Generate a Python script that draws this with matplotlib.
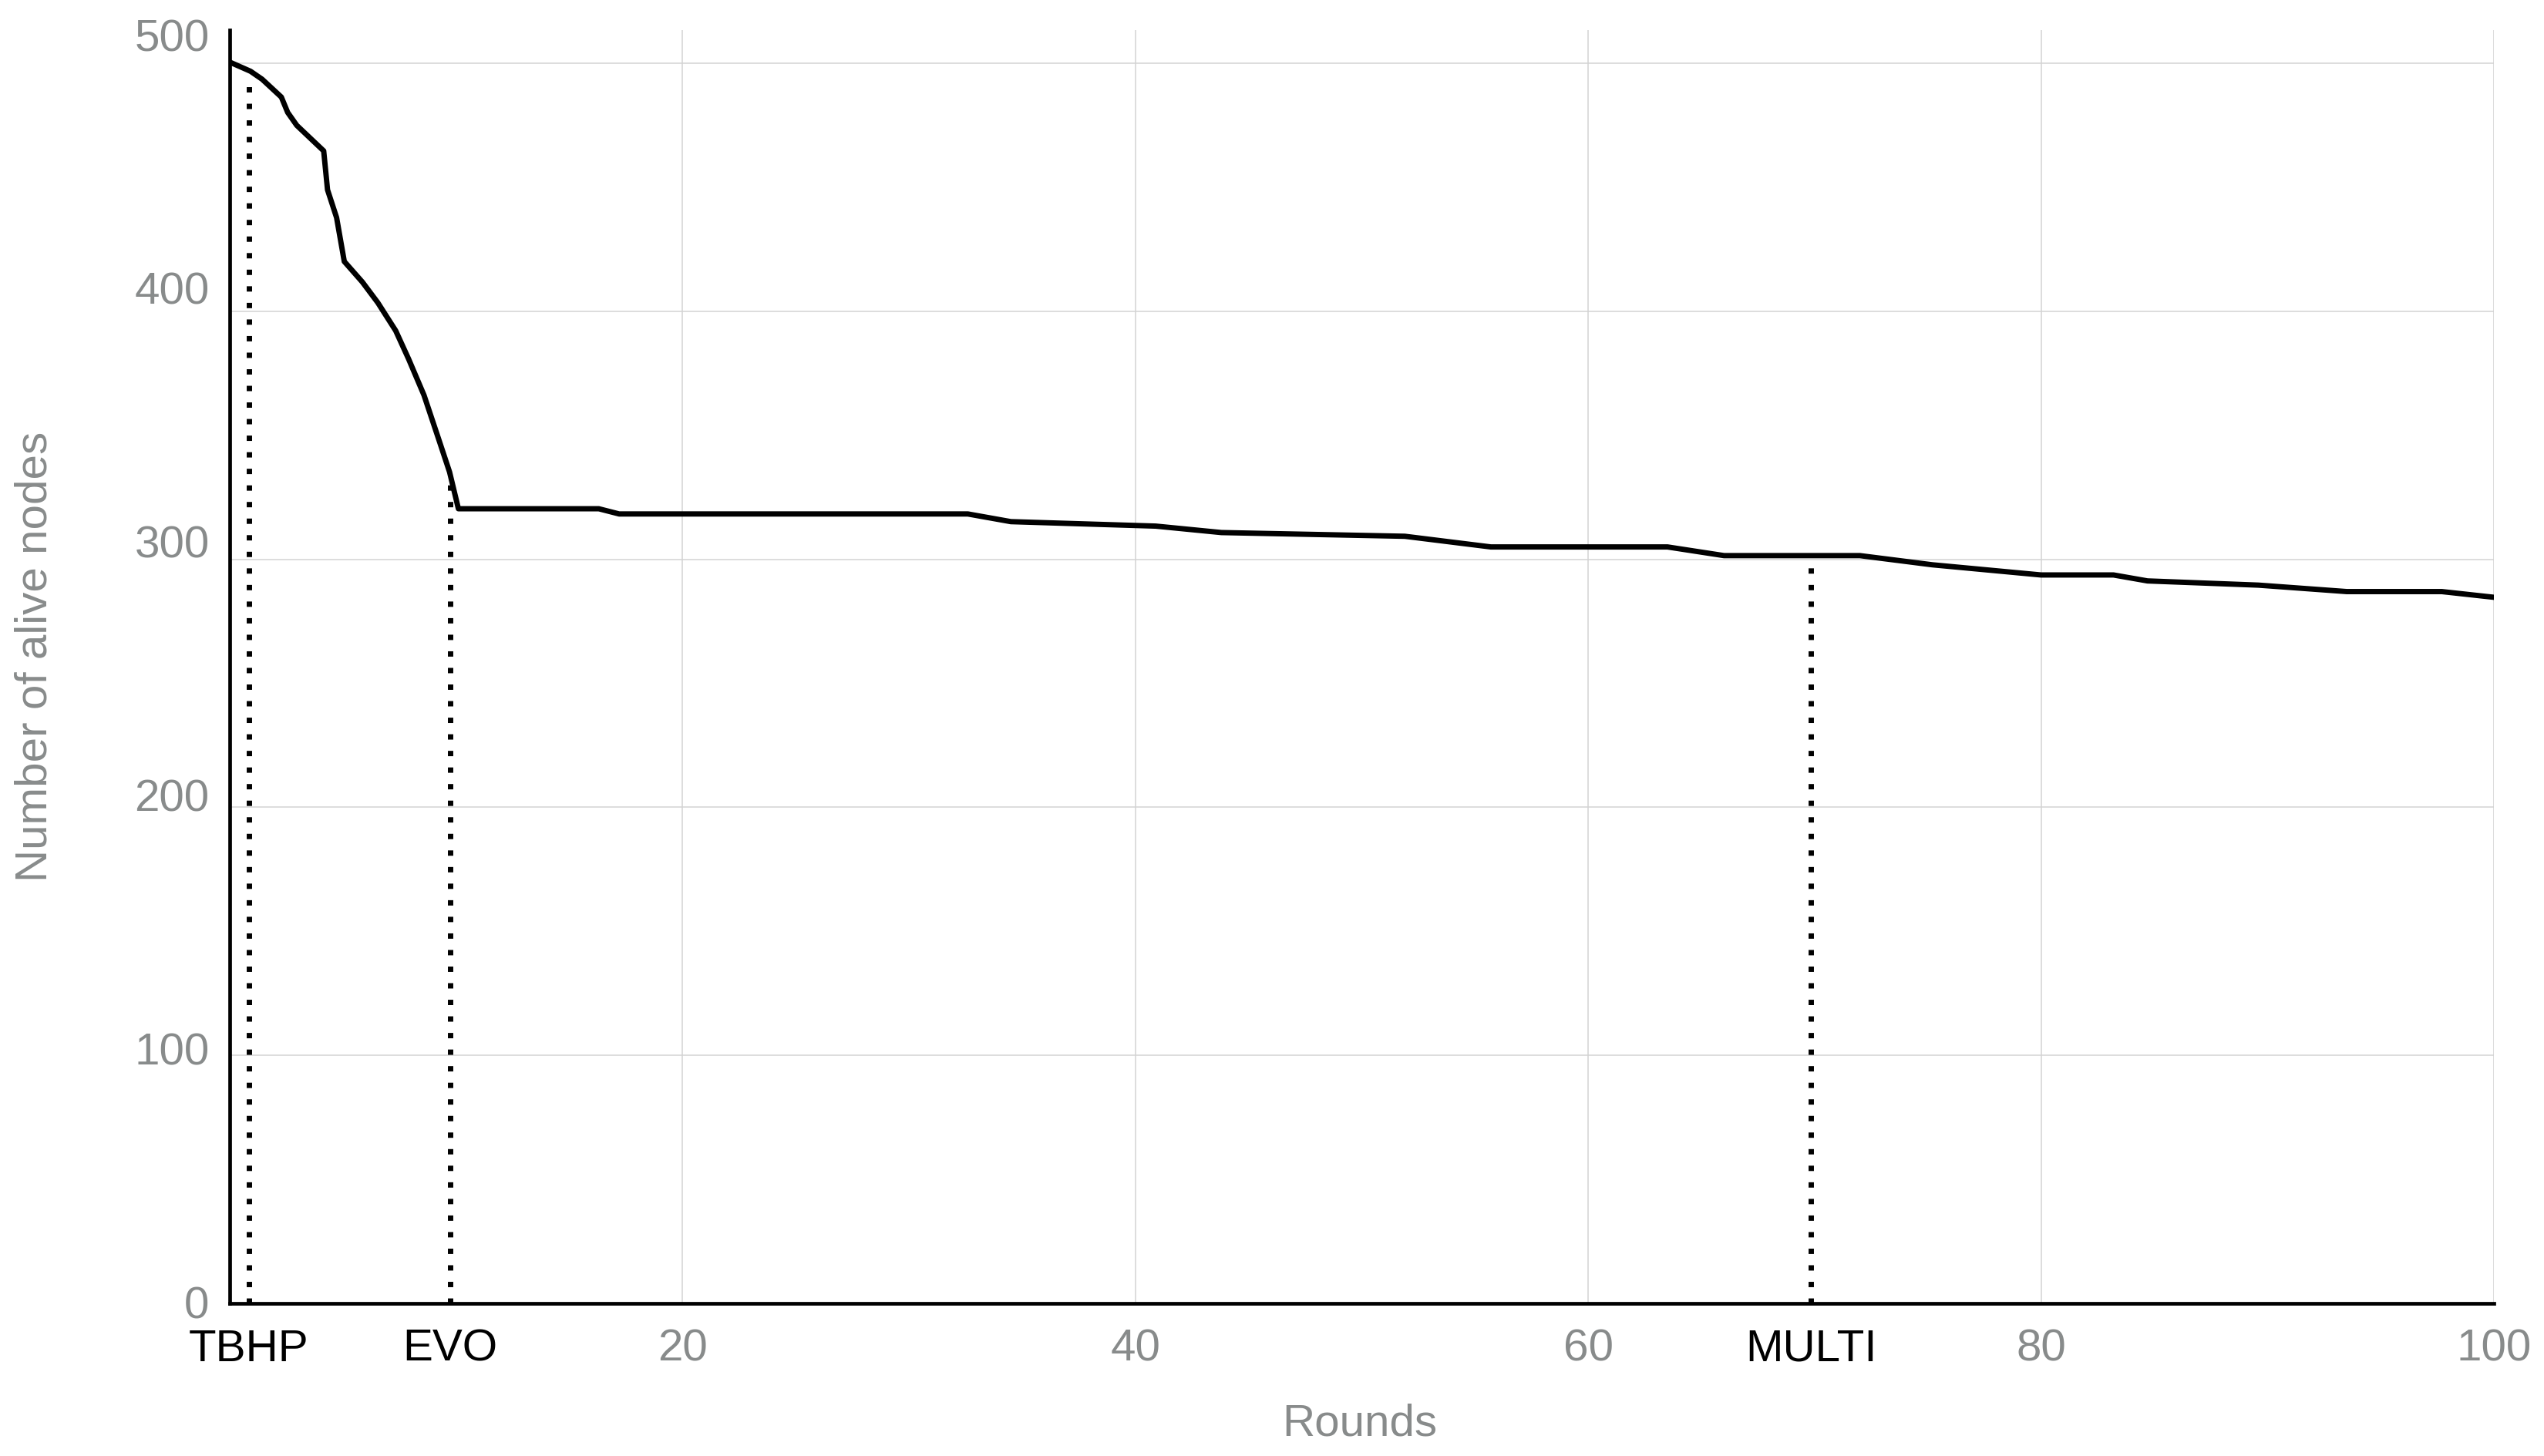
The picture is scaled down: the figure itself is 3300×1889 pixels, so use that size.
import matplotlib.pyplot as plt

# curve
rounds = [0, 0.92, 1.43, 2.28, 2.56, 2.96, 4.15, 4.32, 4.72, 5.06, 5.86, 6.54,
          7.33, 7.9, 8.58, 9.26, 9.71, 10.1, 16.3, 17.2, 32.6, 34.5, 40.9,
          43.8, 51.9, 55.7, 63.5, 66.0, 72.0, 75.2, 80.0, 83.2, 84.7, 89.6,
          93.5, 97.7, 100]
alive = [500.5, 496.8, 493.6, 486.4, 480.2, 475.0, 464.7, 449.0, 437.8, 420.1,
         411.8, 403.5, 392.2, 380.8, 366.2, 347.6, 335.2, 320.4, 320.4, 318.3,
         318.3, 315.2, 313.4, 310.8, 309.3, 305.0, 305.0, 301.5, 301.5, 297.8,
         293.7, 293.7, 291.3, 289.6, 287.0, 287.0, 284.7]

marker_names = ['TBHP', 'EVO', 'MULTI']
marker_rounds = [0.84, 9.73, 69.85]
marker_tops = [494, 331, 297]

x_ticks = [20, 40, 60, 80, 100]
y_ticks = [0, 100, 200, 300, 400, 500]

gray = '#888b8b'
plt.rcParams['font.family'] = ['Liberation Sans', 'DejaVu Sans']

fig = plt.figure(figsize=(33, 18.9), dpi=100)
ax = fig.add_axes([0.0903, 0.1048, 0.89, 0.874])

ax.plot(rounds, alive, color='black', lw=5, zorder=3)
for xm, top in zip(marker_rounds, marker_tops):
    ax.plot([xm, xm], [0, top], color='black', lw=5,
            linestyle=(0, (1, 2.1)), dash_capstyle='butt', zorder=2)

ax.set_xlim(0, 100)
ax.set_ylim(0, 513.4)
ax.set_xticks(x_ticks)
ax.set_xticklabels([str(v) for v in x_ticks])
ax.set_xticks(marker_rounds, minor=True)
ax.set_xticklabels(marker_names, minor=True)
ax.set_yticks(y_ticks)
ax.set_yticklabels([])
ax.grid(True, which='major', color='#d3d3d3', lw=1.1)
ax.set_axisbelow(True)
ax.tick_params(axis='both', which='both', length=0)
ax.tick_params(axis='x', which='both', pad=23, labelsize=42)
ax.tick_params(axis='x', which='major', labelcolor=gray)
ax.tick_params(axis='x', which='minor', labelcolor='black')

for s in ['top', 'right']:
    ax.spines[s].set_visible(False)
for s in ['left', 'bottom']:
    ax.spines[s].set_linewidth(3.4)
    ax.spines[s].set_color('black')

# y labels sit on a slightly different scale than the gridlines
ax2 = ax.twinx()
ax2.set_ylim(-0.6, 501.5)
ax2.yaxis.tick_left()
ax2.set_yticks(y_ticks)
ax2.set_yticklabels([str(v) for v in y_ticks])
ax2.tick_params(axis='y', length=0, pad=19, labelsize=42, labelcolor=gray)
for s in ax2.spines.values():
    s.set_visible(False)

fig.text(1764 / 3300, 1 - 1848 / 1890, 'Rounds', ha='center', va='center',
         fontsize=42, color=gray)
fig.text(46 / 3300, 1 - 852 / 1890, 'Number of alive nodes', ha='center',
         va='center', rotation=90, fontsize=42, color=gray)

fig.savefig('out.png', dpi=100)
